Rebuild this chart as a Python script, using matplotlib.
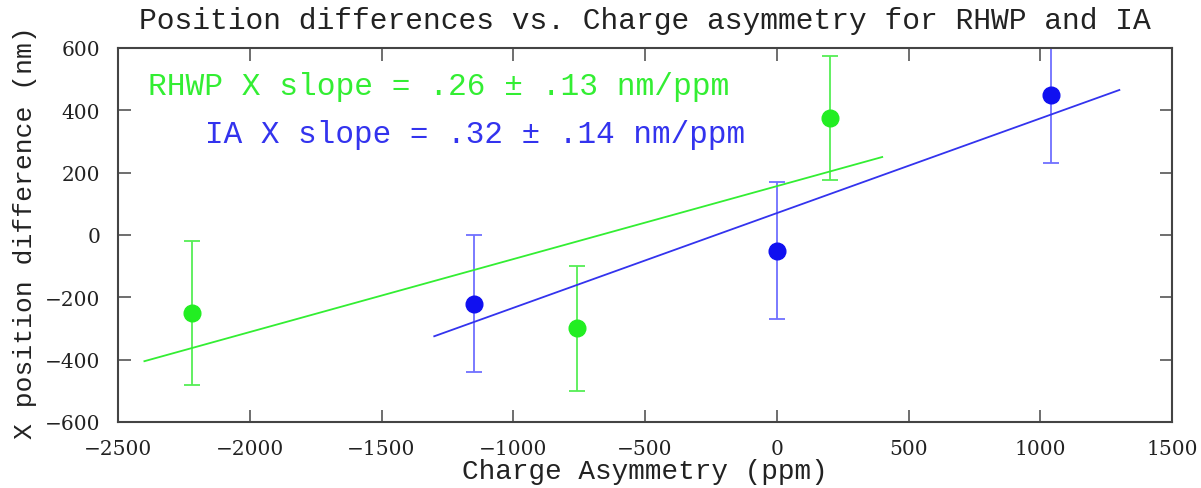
import matplotlib
matplotlib.use('Agg')
import matplotlib.pyplot as plt

# RHWP points
rhwp_x = [-2220, -760, 200]
rhwp_y = [-250, -300, 375]
rhwp_err = [230, 200, 200]
rhwp_fit_x = [-2400, 400]
rhwp_fit_y = [-405, 250]

# IA points
ia_x = [-1150, 0, 1040]
ia_y = [-220, -50, 450]
ia_err = [220, 220, 220]
ia_fit_x = [-1300, 1300]
ia_fit_y = [-325, 465]

xticks = [-2500, -2000, -1500, -1000, -500, 0, 500, 1000, 1500]
yticks = [-600, -400, -200, 0, 200, 400, 600]

green = '#22ee22'
blue = '#1010f0'
mono = 'Liberation Mono'

fig = plt.figure(figsize=(12.01, 4.89), dpi=100)
ax = fig.add_axes([0.0983, 0.135, 0.8776, 0.765])

ax.errorbar(rhwp_x, rhwp_y, yerr=rhwp_err, fmt='o', color=green, ecolor='#55ee55',
            ms=12, elinewidth=1.3, capsize=6, capthick=1.3)
ax.errorbar(ia_x, ia_y, yerr=ia_err, fmt='o', color=blue, ecolor='#7070ff',
            ms=12, elinewidth=1.3, capsize=6, capthick=1.3)
ax.plot(rhwp_fit_x, rhwp_fit_y, color='#33ee33', lw=1.3)
ax.plot(ia_fit_x, ia_fit_y, color='#3333ee', lw=1.3)

ax.set_xlim(-2500, 1500)
ax.set_ylim(-600, 600)
ax.set_xticks(xticks)
ax.set_yticks(yticks)
ax.tick_params(direction='in', length=9, width=1.2, top=True, right=True,
               labelsize=14.5, colors='#555555', labelcolor='#222222')
ax.tick_params(axis='y', pad=13)
ax.tick_params(axis='x', pad=12)
for lbl in ax.get_xticklabels() + ax.get_yticklabels():
    lbl.set_family('DejaVu Serif')
for s in ax.spines.values():
    s.set_linewidth(1.5)
    s.set_color('#444444')

ax.text(-2386, 452, 'RHWP X slope = .26 \u00b1 .13 nm/ppm', color='#33ee33',
        fontsize=22.5, family=mono, va='baseline')
ax.text(-2170, 298, 'IA X slope = .32 \u00b1 .14 nm/ppm', color='#3333ee',
        fontsize=22.3, family=mono, va='baseline')

ax.set_title('Position differences vs. Charge asymmetry for RHWP and IA',
             fontsize=21.3, family=mono, pad=14, color='#222222')
ax.set_xlabel('Charge Asymmetry (ppm)', fontsize=20, family=mono, color='#222222')
ax.set_ylabel('X position difference (nm)', fontsize=19, family=mono, color='#222222')
ax.xaxis.set_label_coords(0.5, -0.095)
ax.yaxis.set_label_coords(-0.077, 0.508)

fig.savefig('out.png', dpi=100)
